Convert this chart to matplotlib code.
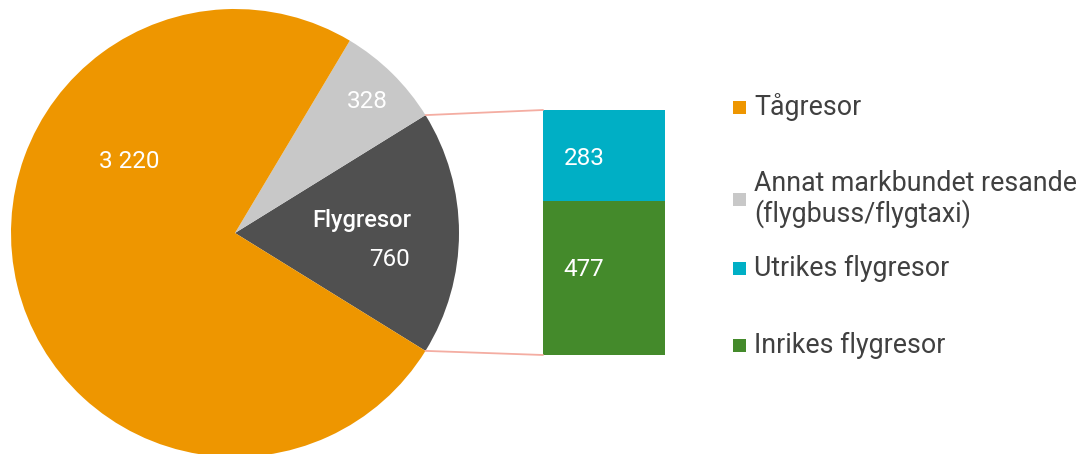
import matplotlib
matplotlib.use("Agg")
import matplotlib.pyplot as plt
from matplotlib.patches import ConnectionPatch, Rectangle
import numpy as np

plt.rcParams['font.family'] = ['Roboto', 'DejaVu Sans']

# Data
pie_labels = ["Flygresor", "Annat markbundet resande\n(flygbuss/flygtaxi)", "Tågresor"]
pie_values = [760, 328, 3220]
pie_colors = ["#505050", "#C8C8C8", "#EE9600"]
pie_texts = ["760", "328", "3 220"]

bar_labels = ["Inrikes flygresor", "Utrikes flygresor"]
bar_values = [477, 283]
bar_colors = ["#448A2B", "#00AFC5"]

legend_labels = ["Tågresor", "Annat markbundet resande\n(flygbuss/flygtaxi)",
                 "Utrikes flygresor", "Inrikes flygresor"]
legend_colors = ["#EE9600", "#C8C8C8", "#00AFC5", "#448A2B"]

W, H = 1085, 454
fig = plt.figure(figsize=(W / 100, H / 100), dpi=100)

# Pie axes (pixel placement)
cx, cy, r = 235, H - 233, 224
ax = fig.add_axes([(cx - r) / W, (cy - r) / H, 2 * r / W, 2 * r / H])
total = sum(pie_values)
start = -pie_values[0] / total * 360 / 2
wedges, _ = ax.pie(pie_values, colors=pie_colors, startangle=start,
                   counterclock=True, radius=1, center=(0, 0))
ax.set_xlim(-1, 1)
ax.set_ylim(-1, 1)
ax.set_aspect('equal')
ax.axis('off')

tk = dict(color="white", ha="center", va="center", fontsize=17.5)
ax.text(-0.47, 0.32, pie_texts[2], **tk)
ax.text(0.59, 0.585, pie_texts[1], **tk)
ax.text(0.567, 0.058, "Flygresor", color="white", ha="center", va="center",
        fontsize=17, fontweight="medium")
ax.text(0.688, -0.12, pie_texts[0], **tk)

# Bar axes
bx0, bx1, by0, by1 = 543, 665, H - 355, H - 110
bax = fig.add_axes([bx0 / W, by0 / H, (bx1 - bx0) / W, (by1 - by0) / H])
bottom = 0
for v, c in zip(bar_values, bar_colors):
    bax.bar(0, v, bottom=bottom, width=1, color=c)
    bottom += v
bax.set_xlim(-0.5, 0.5)
bax.set_ylim(0, sum(bar_values))
bax.axis('off')
bax.text(-0.33, 264, "477", color="white", ha="left", va="center", fontsize=17.5)
bax.text(-0.33, 611, "283", color="white", ha="left", va="center", fontsize=17.5)

# Connectors
th1, th2 = wedges[0].theta1, wedges[0].theta2
line_col = "#F4ADA2"
for th, yb in [(th2, sum(bar_values)), (th1, 0)]:
    x = np.cos(np.radians(th))
    y = np.sin(np.radians(th))
    con = ConnectionPatch(xyA=(-0.5, yb), coordsA=bax.transData,
                          xyB=(x, y), coordsB=ax.transData,
                          color=line_col, linewidth=1.3)
    fig.add_artist(con)

# Legend (manual)
leg_y = [107, 199, 268, 345]
for lab, col, yy in zip(legend_labels, legend_colors, leg_y):
    sq = 13
    fig.add_artist(Rectangle(((733) / W, (H - yy - sq / 2) / H), sq / W, sq / H,
                             transform=fig.transFigure, color=col, linewidth=0))
    fig.text(754 / W, (H - yy) / H, lab, ha="left", va="center", fontsize=19.3,
             color="#404040", linespacing=1.1)

fig.savefig("out.png", dpi=100)
